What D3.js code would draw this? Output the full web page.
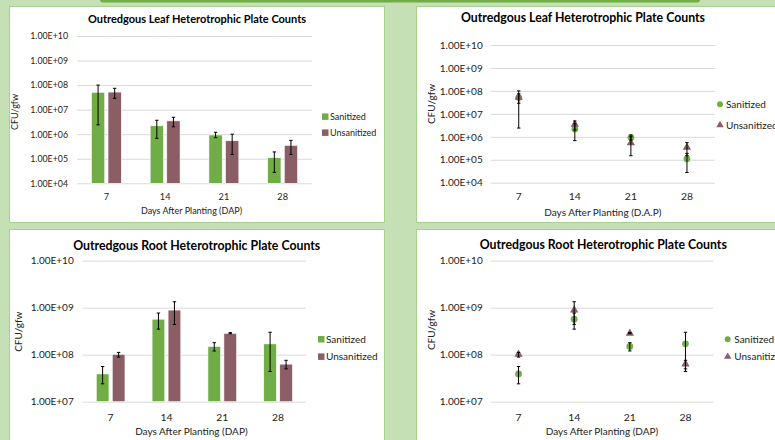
<!DOCTYPE html>
<html>
<head>
<meta charset="utf-8">
<script src="https://cdn.jsdelivr.net/npm/d3@7"></script>
<style>
body { margin: 0; background: #c5e0b4; }
svg { display: block; font-family: Lato, "Open Sans", sans-serif; }
</style>
</head>
<body>
<svg id="drawing_region" width="775" height="440"></svg>
<script>
// ---- data ----
const days = ["7", "14", "21", "28"];
const seriesNames = ["Sanitized", "Unsanitized"];

const leafSanitized     = [5.1e7, 2.2e6, 9.3e5, 1.1e5];
const leafSanitizedHi   = [1.0e8, 3.7e6, 1.2e6, 1.9e5];
const leafSanitizedLo   = [2.4e6, 6.8e5, 7.2e5, 2.8e4];
const leafUnsanitized   = [5.2e7, 3.5e6, 5.4e5, 3.5e5];
const leafUnsanitizedHi = [7.4e7, 4.9e6, 1.0e6, 5.6e5];
const leafUnsanitizedLo = [2.9e7, 2.0e6, 1.5e5, 1.5e5];

const rootSanitized     = [3.9e7, 5.7e8, 1.5e8, 1.7e8];
const rootSanitizedHi   = [5.6e7, 7.7e8, 1.8e8, 3.0e8];
const rootSanitizedLo   = [2.4e7, 3.5e8, 1.2e8, 4.4e7];
const rootUnsanitized   = [1.02e8, 8.9e8, 2.85e8, 6.3e7];
const rootUnsanitizedHi = [1.12e8, 1.34e9, 2.95e8, 7.6e7];
const rootUnsanitizedLo = [8.9e7, 4.4e8, 2.8e8, 5.0e7];

const leafTicks = [1e4, 1e5, 1e6, 1e7, 1e8, 1e9, 1e10];
const rootTicks = [1e7, 1e8, 1e9, 1e10];

const colors = ["#70ad47", "#8b5d65"];

function buildSeries(vals, hi, lo) {
    return days.map((d, i) => ({ day: d, v: vals[i], hi: hi[i], lo: lo[i] }));
}
const leafData = [
    buildSeries(leafSanitized, leafSanitizedHi, leafSanitizedLo),
    buildSeries(leafUnsanitized, leafUnsanitizedHi, leafUnsanitizedLo)
];
const rootData = [
    buildSeries(rootSanitized, rootSanitizedHi, rootSanitizedLo),
    buildSeries(rootUnsanitized, rootUnsanitizedHi, rootUnsanitizedLo)
];

const fmt = d => d.toExponential(2).toUpperCase().replace(/E([+-])(\d)$/, "E$10$2");

const svg = d3.select('#drawing_region');

// background decoration
svg.append('rect')
    .attr('x', 100).attr('y', -6).attr('width', 600).attr('height', 8.5)
    .attr('rx', 3).attr('fill', '#70ad47');

const charts = [
    {
        type: 'bar', data: leafData, ticks: leafTicks,
        title: 'Outredgous Leaf Heterotrophic Plate Counts', xlabel: 'Days After Planting (DAP)',
        panel: { x: 9.5, y: 6.5, w: 375, h: 216 },
        plot: { left: 77, right: 312, top: 36, bottom: 183.3 },
        titlePos: [197, 19.5], ytitlePos: [15, 112], xtitleY: 211, xlabelY: 197,
        legend: { x: 322, text: 330, y: [116.7, 132.7] },
        font: { title: 11, tick: 8.8, label: 9, legend: 9 },
        bar: { width: 13.3, gap: 3.3 }
    },
    {
        type: 'scatter', data: leafData, ticks: leafTicks,
        title: 'Outredgous Leaf Heterotrophic Plate Counts', xlabel: 'Days After Planting (D.A.P)',
        panel: { x: 416.5, y: 6.5, w: 400, h: 216 },
        plot: { left: 490.7, right: 715, top: 45, bottom: 182.7 },
        titlePos: [583, 17.3], ytitlePos: [431.7, 104], xtitleY: 212, xlabelY: 196.7,
        legend: { x: 720, text: 726, y: [104.3, 125] },
        font: { title: 12.3, tick: 10, label: 10, legend: 10 }
    },
    {
        type: 'bar', data: rootData, ticks: rootTicks,
        title: 'Outredgous Root Heterotrophic Plate Counts', xlabel: 'Days After Planting (DAP)',
        panel: { x: 9.5, y: 229.5, w: 375, h: 250 },
        plot: { left: 82.7, right: 306, top: 260.7, bottom: 401.7 },
        titlePos: [196.7, 245.7], ytitlePos: [18, 331.7], xtitleY: 431.7, xlabelY: 417.7,
        legend: { x: 318, text: 326, y: [339.3, 356.7] },
        font: { title: 12.3, tick: 10, label: 10, legend: 10 },
        bar: { width: 12.7, gap: 3.3 }
    },
    {
        type: 'scatter', data: rootData, ticks: rootTicks,
        title: 'Outredgous Root Heterotrophic Plate Counts', xlabel: 'Days After Planting (DAP)',
        panel: { x: 416.5, y: 229.5, w: 400, h: 250 },
        plot: { left: 490.7, right: 713.3, top: 260.7, bottom: 401.7 },
        titlePos: [603.3, 245], ytitlePos: [431.7, 330], xtitleY: 431.7, xlabelY: 417.3,
        legend: { x: 727.7, text: 734.3, y: [339.3, 356.7] },
        font: { title: 12.3, tick: 10, label: 10, legend: 10 }
    }
];

charts.forEach(c => drawChart(c));

function drawChart(c) {
    const g = svg.append('g');

    g.append('rect')
        .attr('x', c.panel.x).attr('y', c.panel.y)
        .attr('width', c.panel.w).attr('height', c.panel.h)
        .attr('fill', '#fff').attr('stroke', '#a9d18e').attr('stroke-width', 1);

    const xscale = d3.scaleBand()
        .domain(days)
        .range([c.plot.left, c.plot.right]);

    const yscale = d3.scaleLog()
        .domain([c.ticks[0], c.ticks[c.ticks.length - 1]])
        .range([c.plot.bottom, c.plot.top]);

    // y axis with gridlines
    const yaxis_group = g.append('g')
        .attr('transform', `translate(${c.plot.left}, 0)`)
        .call(d3.axisLeft(yscale)
            .tickValues(c.ticks)
            .tickFormat(fmt)
            .tickSize(-(c.plot.right - c.plot.left))
            .tickPadding(c.type == 'bar' ? 9 : 8));
    yaxis_group.select('.domain').remove();
    yaxis_group.selectAll('line').attr('stroke', '#d9d9d9').attr('stroke-width', 1);
    yaxis_group.selectAll('text')
        .attr('fill', '#222')
        .attr('font-size', c.font.tick);
    yaxis_group.attr('font-family', null).attr('font-size', null);

    // x axis labels
    const xaxis_group = g.append('g')
        .attr('transform', `translate(0, ${c.xlabelY})`)
        .call(d3.axisBottom(xscale).tickSize(0).tickPadding(0));
    xaxis_group.select('.domain').remove();
    xaxis_group.attr('font-family', null).attr('font-size', null);
    xaxis_group.selectAll('text')
        .attr('y', 0).attr('dy', '0.35em')
        .attr('fill', '#222')
        .attr('font-size', c.font.tick + 0.4);

    // titles
    g.append('text')
        .attr('x', c.titlePos[0]).attr('y', c.titlePos[1])
        .attr('dy', '0.35em')
        .attr('text-anchor', 'middle')
        .attr('font-weight', 700)
        .attr('font-size', c.font.title)
        .attr('fill', '#000')
        .text(c.title);

    g.append('text')
        .attr('x', (c.plot.left + c.plot.right) / 2 - (c.type == 'bar' ? 3 : 0))
        .attr('y', c.xtitleY)
        .attr('dy', '0.35em')
        .attr('text-anchor', 'middle')
        .attr('font-size', c.font.label)
        .attr('fill', '#222')
        .text(c.xlabel);

    g.append('text')
        .attr('transform', `translate(${c.ytitlePos[0]}, ${c.ytitlePos[1]}) rotate(-90)`)
        .attr('dy', '0.35em')
        .attr('text-anchor', 'middle')
        .attr('font-size', c.font.label)
        .attr('fill', '#222')
        .text('CFU/gfw');

    if (c.type == 'bar') {
        const inner = d3.scaleBand()
            .domain(seriesNames)
            .range([-(c.bar.width + c.bar.gap / 2), c.bar.width + c.bar.gap / 2])
            .paddingInner(c.bar.gap / (c.bar.width + c.bar.gap));

        c.data.forEach((series, si) => {
            const xpos = d => xscale(d.day) + xscale.bandwidth() / 2 + inner(seriesNames[si]);
            g.append('g').selectAll('rect')
                .data(series)
                .join('rect')
                .attr('x', xpos)
                .attr('y', d => yscale(d.v))
                .attr('width', inner.bandwidth())
                .attr('height', d => c.plot.bottom - yscale(d.v))
                .attr('fill', colors[si])
                .attr('stroke', '#fff')
                .attr('stroke-width', 0.6);

            drawErrors(g, series, d => xpos(d) + inner.bandwidth() / 2, yscale);
        });
    } else {
        const cx = d => xscale(d.day) + xscale.bandwidth() / 2;
        c.data.forEach((series, si) => {
            const sym = si == 0 ? d3.symbolCircle : d3.symbolTriangle;
            g.append('g').selectAll('path')
                .data(series)
                .join('path')
                .attr('transform', d => `translate(${cx(d)}, ${yscale(d.v)})`)
                .attr('d', d3.symbol(sym, si == 0 ? 36 : 30))
                .attr('fill', colors[si]);
        });
        c.data.forEach(series => drawErrors(g, series, cx, yscale));
    }

    // legend
    seriesNames.forEach((name, si) => {
        const ly = c.legend.y[si];
        if (c.type == 'bar') {
            g.append('rect')
                .attr('x', c.legend.x).attr('y', ly - 3.3)
                .attr('width', 6.5).attr('height', 6.5)
                .attr('fill', colors[si]);
        } else {
            g.append('path')
                .attr('transform', `translate(${c.legend.x}, ${ly})`)
                .attr('d', d3.symbol(si == 0 ? d3.symbolCircle : d3.symbolTriangle, si == 0 ? 28 : 24))
                .attr('fill', colors[si]);
        }
        g.append('text')
            .attr('x', c.legend.text).attr('y', ly)
            .attr('dy', '0.35em')
            .attr('font-size', c.font.legend)
            .attr('fill', '#222')
            .text(name);
    });
}

function drawErrors(g, series, xf, yscale) {
    const eg = g.append('g').attr('stroke', '#000').attr('stroke-width', 1);
    eg.selectAll('.err')
        .data(series)
        .join('line')
        .attr('x1', xf).attr('x2', xf)
        .attr('y1', d => yscale(d.hi)).attr('y2', d => yscale(d.lo));
    ['hi', 'lo'].forEach(k => {
        eg.selectAll('.cap-' + k)
            .data(series)
            .join('line')
            .attr('class', 'cap-' + k)
            .attr('x1', d => xf(d) - 1.7).attr('x2', d => xf(d) + 1.7)
            .attr('y1', d => yscale(d[k])).attr('y2', d => yscale(d[k]));
    });
}
</script>
</body>
</html>
